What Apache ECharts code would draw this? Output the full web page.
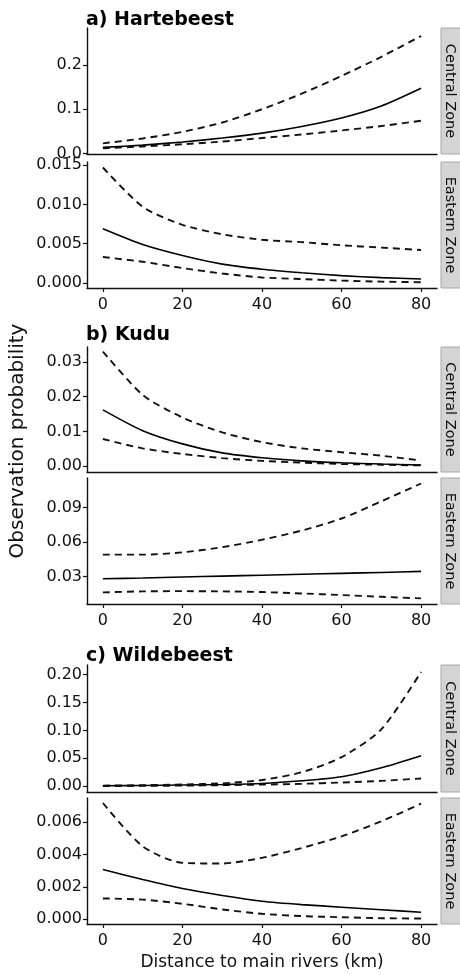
<!DOCTYPE html>
<html>
<head>
<meta charset="utf-8">
<script src="https://cdn.jsdelivr.net/npm/echarts@6/dist/echarts.min.js"></script>
<style>
html, body { margin: 0; padding: 0; background: #fff; }
#chart { width: 460px; height: 975px; }
</style>
</head>
<body>
<div id="chart"></div>
<script>
// distance to main rivers (km)
var distance = [0, 10, 20, 30, 40, 50, 60, 70, 80];
var xTickLabels = ['0', '20', '40', '60', '80'];

// a) Hartebeest
var harteCentralFit   = [0.014, 0.019, 0.026, 0.035, 0.046, 0.061, 0.080, 0.107, 0.147];
var harteCentralLower = [0.012, 0.016, 0.021, 0.027, 0.035, 0.043, 0.052, 0.062, 0.074];
var harteCentralUpper = [0.023, 0.034, 0.049, 0.070, 0.100, 0.135, 0.175, 0.218, 0.265];
var harteEasternFit   = [0.0069, 0.0049, 0.0035, 0.0024, 0.00175, 0.0013, 0.00093, 0.00068, 0.0005];
var harteEasternLower = [0.0033, 0.0027, 0.0019, 0.0012, 0.0007, 0.0005, 0.0003, 0.00017, 0.0001];
var harteEasternUpper = [0.0147, 0.0097, 0.0074, 0.0062, 0.0055, 0.0052, 0.0048, 0.0045, 0.0042];

// b) Kudu
var kuduCentralFit   = [0.0162, 0.0102, 0.0064, 0.0038, 0.0024, 0.0015, 0.00095, 0.0006, 0.0003];
var kuduCentralLower = [0.0078, 0.0051, 0.0035, 0.0023, 0.0015, 0.0010, 0.0006, 0.0004, 0.0002];
var kuduCentralUpper = [0.0330, 0.0205, 0.0140, 0.0097, 0.0069, 0.0051, 0.0040, 0.0030, 0.0016];
var kuduEasternFit   = [0.0280, 0.0287, 0.0295, 0.0303, 0.0311, 0.0319, 0.0327, 0.0335, 0.0344];
var kuduEasternLower = [0.0161, 0.0170, 0.0172, 0.0170, 0.0164, 0.0152, 0.0138, 0.0123, 0.0109];
var kuduEasternUpper = [0.0490, 0.0490, 0.0510, 0.0555, 0.0620, 0.0700, 0.0805, 0.0955, 0.1110];

// c) Wildebeest
var wildeCentralFit   = [0.0006, 0.0012, 0.0020, 0.0030, 0.0048, 0.0096, 0.0168, 0.0330, 0.0547];
var wildeCentralLower = [0.0003, 0.0006, 0.0010, 0.0018, 0.0028, 0.0042, 0.0065, 0.0095, 0.0138];
var wildeCentralUpper = [0.0010, 0.0018, 0.0030, 0.0050, 0.0110, 0.0250, 0.0520, 0.1020, 0.2050];
var wildeEasternFit   = [0.00307, 0.00245, 0.00189, 0.00146, 0.00111, 0.00090, 0.00074, 0.00058, 0.00043];
var wildeEasternLower = [0.00128, 0.00121, 0.00095, 0.00060, 0.00033, 0.00019, 0.00012, 0.00006, 0.00004];
var wildeEasternUpper = [0.00718, 0.00450, 0.00348, 0.00344, 0.00379, 0.00440, 0.00512, 0.00605, 0.00714];

// y tick labels per panel
var harteCentralTicks = ['0.0', '0.1', '0.2'];
var harteEasternTicks = ['0.000', '0.005', '0.010', '0.015'];
var kuduCentralTicks  = ['0.00', '0.01', '0.02', '0.03'];
var kuduEasternTicks  = ['0.03', '0.06', '0.09'];
var wildeCentralTicks = ['0.00', '0.05', '0.10', '0.15', '0.20'];
var wildeEasternTicks = ['0.000', '0.002', '0.004', '0.006'];

var speciesTitles = ['a) Hartebeest', 'b) Kudu', 'c) Wildebeest'];
var zoneNames = ['Central Zone', 'Eastern Zone'];

var panelData = [
  [harteCentralLower, harteCentralFit, harteCentralUpper, harteCentralTicks],
  [harteEasternLower, harteEasternFit, harteEasternUpper, harteEasternTicks],
  [kuduCentralLower, kuduCentralFit, kuduCentralUpper, kuduCentralTicks],
  [kuduEasternLower, kuduEasternFit, kuduEasternUpper, kuduEasternTicks],
  [wildeCentralLower, wildeCentralFit, wildeCentralUpper, wildeCentralTicks],
  [wildeEasternLower, wildeEasternFit, wildeEasternUpper, wildeEasternTicks]
];

// layout: grid top / height and y range of each panel
var layout = [
  { top: 28,  height: 126, min: -0.001,  max: 0.283 },
  { top: 162, height: 126, min: -0.00064, max: 0.0154 },
  { top: 347, height: 125, min: -0.0017, max: 0.0343 },
  { top: 478, height: 126, min: 0.006,   max: 0.1158 },
  { top: 665, height: 127, min: -0.0105, max: 0.2175 },
  { top: 798, height: 126, min: -0.0003, max: 0.00749 }
];
var titleY = [20, 335, 656];

var LEFT = 87, RIGHT = 23, W = 460;
var FONT = 'DejaVu Sans';
var INK = '#111';

function pairs(ys) {
  return distance.map(function (d, i) { return [d, ys[i]]; });
}

var grids = [], xAxes = [], yAxes = [], series = [], graphics = [];

layout.forEach(function (p, i) {
  var isEastern = i % 2 === 1;
  var ticks = panelData[i][3];
  grids.push({ left: LEFT, right: RIGHT, top: p.top, height: p.height });
  xAxes.push({
    type: 'value', gridIndex: i, min: -4, max: 84,
    splitLine: { show: false },
    axisLine: { show: true, onZero: false, lineStyle: { color: '#111', width: 1.4 } },
    axisTick: { show: isEastern, length: 4, customValues: xTickLabels.map(Number), lineStyle: { color: '#111', width: 1.2 } },
    axisLabel: {
      show: isEastern, margin: 9, customValues: xTickLabels.map(Number),
      fontFamily: FONT, fontSize: 16, color: INK,
      formatter: function (v) { return String(v); }
    },
    name: i === 5 ? 'Distance to main rivers (km)' : '',
    nameLocation: 'middle', nameGap: 30,
    nameTextStyle: { fontFamily: FONT, fontSize: 17, color: INK }
  });
  yAxes.push({
    type: 'value', gridIndex: i, min: p.min, max: p.max,
    splitLine: { show: false },
    axisLine: { show: true, onZero: false, lineStyle: { color: '#111', width: 1.4 } },
    axisTick: { show: true, length: 4, customValues: ticks.map(Number), lineStyle: { color: '#111', width: 1.2 } },
    axisLabel: {
      margin: 5, customValues: ticks.map(Number),
      fontFamily: FONT, fontSize: 16, color: INK,
      formatter: function (v) {
        for (var k = 0; k < ticks.length; k++) {
          if (Math.abs(Number(ticks[k]) - v) < 1e-9) return ticks[k];
        }
        return '';
      }
    }
  });
  var styles = [
    { type: [7, 5], width: 1.9, color: '#111' },
    { type: 'solid', width: 1.6, color: '#000' },
    { type: [7, 5], width: 1.9, color: '#111' }
  ];
  for (var s = 0; s < 3; s++) {
    series.push({
      type: 'line', xAxisIndex: i, yAxisIndex: i,
      data: pairs(panelData[i][s]),
      showSymbol: false, smooth: 0.25, silent: true, animation: false,
      lineStyle: styles[s]
    });
  }
  // facet strip
  graphics.push({
    type: 'rect', x: W - RIGHT + 4, y: p.top, silent: true,
    shape: { width: 22, height: p.height },
    style: { fill: '#d4d4d4', stroke: '#a8a8a8', lineWidth: 1 }
  });
  graphics.push({
    type: 'text', x: W - RIGHT + 13, y: p.top + p.height / 2,
    rotation: -Math.PI / 2, silent: true,
    style: {
      text: zoneNames[i % 2], fontFamily: FONT, fontSize: 14.5, fill: INK,
      align: 'center', verticalAlign: 'middle'
    }
  });
});

speciesTitles.forEach(function (t, i) {
  graphics.push({
    type: 'text', x: 86, y: titleY[i], silent: true,
    style: {
      text: t, fontFamily: FONT, fontSize: 19, fontWeight: 'bold', fill: '#000',
      align: 'left', verticalAlign: 'middle'
    }
  });
});

graphics.push({
  type: 'text', x: 18, y: 441, rotation: Math.PI / 2, silent: true,
  style: {
    text: 'Observation probability', fontFamily: FONT, fontSize: 20, fill: INK,
    align: 'center', verticalAlign: 'middle'
  }
});

var myChart = echarts.init(document.getElementById('chart'), null, { renderer: 'canvas' });
myChart.setOption({
  backgroundColor: '#fff',
  animation: false,
  grid: grids,
  xAxis: xAxes,
  yAxis: yAxes,
  series: series,
  graphic: graphics
});
</script>
</body>
</html>
